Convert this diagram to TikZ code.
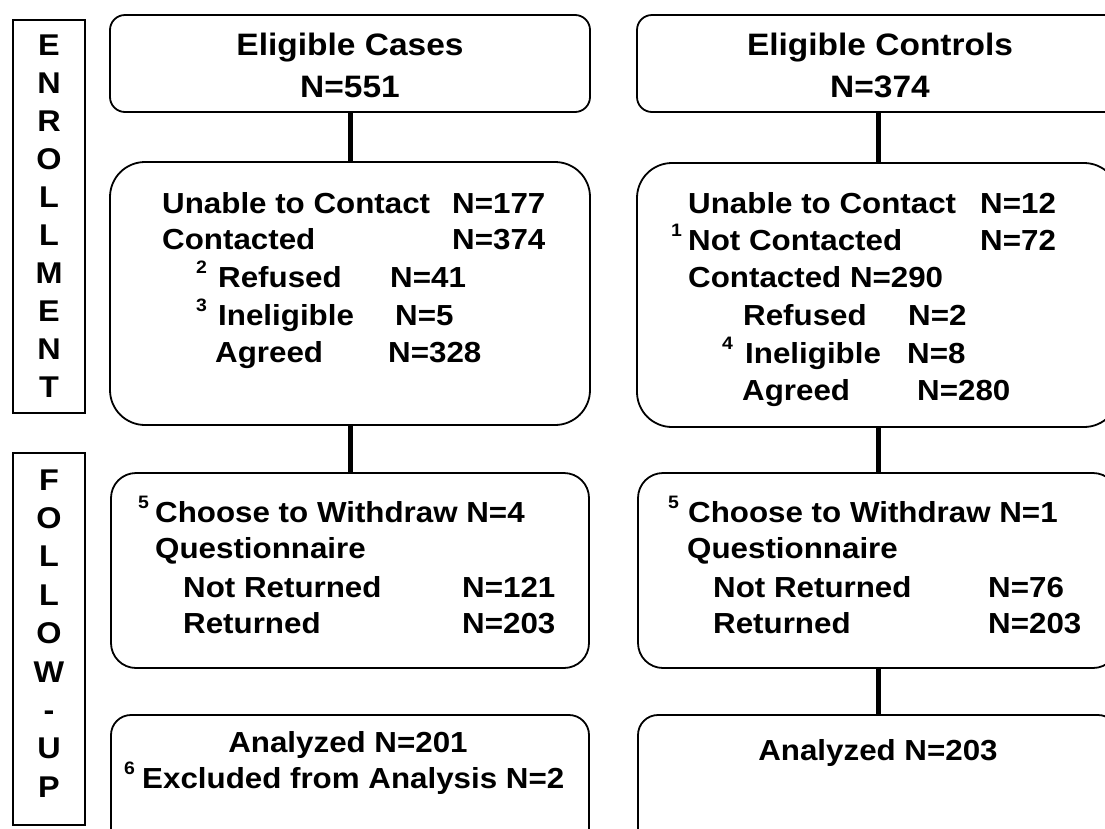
\documentclass[tikz,border=0pt]{standalone}
\usepackage{fontspec}
\setmainfont{Liberation Sans}[FakeStretch=1.08]
\begin{document}
\begin{tikzpicture}[x=1pt,y=-1pt,
  box/.style={draw, line width=1.8pt, rounded corners=#1, inner sep=0pt},
  conn/.style={line width=5pt},
  lbl/.style={draw, line width=1.5pt, inner sep=0pt},
  txt/.style={anchor=base west, inner sep=0pt, font=\fontsize{29}{34}\selectfont\bfseries},
  ctr/.style={anchor=base, inner sep=0pt, font=\fontsize{29}{34}\selectfont\bfseries},
  ttl/.style={anchor=base, inner sep=0pt, font=\fontsize{31}{36}\selectfont\bfseries},
  sups/.style={anchor=base west, inner sep=0pt, font=\fontsize{18}{20}\selectfont\bfseries},
  letr/.style={anchor=base, inner sep=0pt, font=\fontsize{30}{34}\selectfont\bfseries}]
\useasboundingbox (0,0) rectangle (1105,828);
\clip (0,0) rectangle (1105,828);

% side labels
\node[lbl, minimum width=72pt, minimum height=393pt] (enr) at (49,216.5) {};
\node[lbl, minimum width=72pt, minimum height=372pt] (fup) at (49,639) {};
\foreach \c [count=\i from 0] in {E,N,R,O,L,L,M,E,N,T}
  \node[letr] (e\i) at (49,{55+38.1*\i}) {\c};
\foreach \c [count=\i from 0] in {F,O,L,L,O,W,-,U,P}
  \node[letr] (f\i) at (49,{490+38.4*\i}) {\c};

% boxes
\node[box=15pt, minimum width=480pt, minimum height=97pt] (L1) at (350,63.5) {};
\node[box=15pt, minimum width=482pt, minimum height=97pt] (R1) at (878,63.5) {};
\node[box=35pt, minimum width=480pt, minimum height=263pt] (L2) at (350,293.5) {};
\node[box=35pt, minimum width=482pt, minimum height=264pt] (R2) at (878,295) {};
\node[box=25pt, minimum width=478pt, minimum height=195pt] (L3) at (350,570.5) {};
\node[box=25pt, minimum width=480pt, minimum height=195pt] (R3) at (878,570.5) {};
\node[box=20pt, minimum width=478pt, minimum height=150pt] (L4) at (350,790) {};
\node[box=20pt, minimum width=480pt, minimum height=150pt] (R4) at (878,790) {};

% connectors
\draw[conn] (L1.south) -- (L2.north);
\draw[conn] (R1.south) -- (R2.north);
\draw[conn] (L2.south) -- (L3.north);
\draw[conn] (R2.south) -- (R3.north);
\draw[conn] (R3.south) -- (R4.north);

% box 1 texts
\node[ttl] (t1) at (350,55) {Eligible Cases};
\node[ttl] (t2) at (350,97) {N=551};
\node[ttl] (t3) at (880,55) {Eligible Controls};
\node[ttl] (t4) at (880,97) {N=374};

% L2
\node[txt] (a1) at (162,213) {Unable to Contact};
\node[txt] (a1n) at (452,213) {N=177};
\node[txt] (a2) at (162,249) {Contacted};
\node[txt] (a2n) at (452,249) {N=374};
\node[sups] (a3s) at (196,273) {2};
\node[txt] (a3) at (218,287) {Refused};
\node[txt] (a3n) at (390,287) {N=41};
\node[sups] (a4s) at (196,311) {3};
\node[txt] (a4) at (218,325) {Ineligible};
\node[txt] (a4n) at (395,325) {N=5};
\node[txt] (a5) at (215,362) {Agreed};
\node[txt] (a5n) at (388,362) {N=328};

% R2
\node[txt] (b1) at (688,213) {Unable to Contact};
\node[txt] (b1n) at (980,213) {N=12};
\node[sups] (b2s) at (671,236) {1};
\node[txt] (b2) at (688,250) {Not Contacted};
\node[txt] (b2n) at (980,250) {N=72};
\node[txt] (b3) at (688,287) {Contacted N=290};
\node[txt] (b4) at (743,325) {Refused};
\node[txt] (b4n) at (908,325) {N=2};
\node[sups] (b5s) at (722,349) {4};
\node[txt] (b5) at (745,363) {Ineligible};
\node[txt] (b5n) at (907,363) {N=8};
\node[txt] (b6) at (742,400) {Agreed};
\node[txt] (b6n) at (917,400) {N=280};

% L3
\node[sups] (c1s) at (138,508) {5};
\node[txt] (c1) at (155,522) {Choose to Withdraw N=4};
\node[txt] (c2) at (155,558) {Questionnaire};
\node[txt] (c3) at (183,597) {Not Returned};
\node[txt] (c3n) at (462,597) {N=121};
\node[txt] (c4) at (183,633) {Returned};
\node[txt] (c4n) at (462,633) {N=203};

% R3
\node[sups] (d1s) at (668,508) {5};
\node[txt] (d1) at (688,522) {Choose to Withdraw N=1};
\node[txt] (d2) at (687,558) {Questionnaire};
\node[txt] (d3) at (713,597) {Not Returned};
\node[txt] (d3n) at (988,597) {N=76};
\node[txt] (d4) at (713,633) {Returned};
\node[txt] (d4n) at (988,633) {N=203};

% L4, R4
\node[ctr] (g1) at (348,752) {Analyzed N=201};
\node[sups] (g2s) at (124,774) {6};
\node[txt] (g2) at (142,788) {Excluded from Analysis N=2};
\node[ctr] (h1) at (878,760) {Analyzed N=203};
\end{tikzpicture}
\end{document}
